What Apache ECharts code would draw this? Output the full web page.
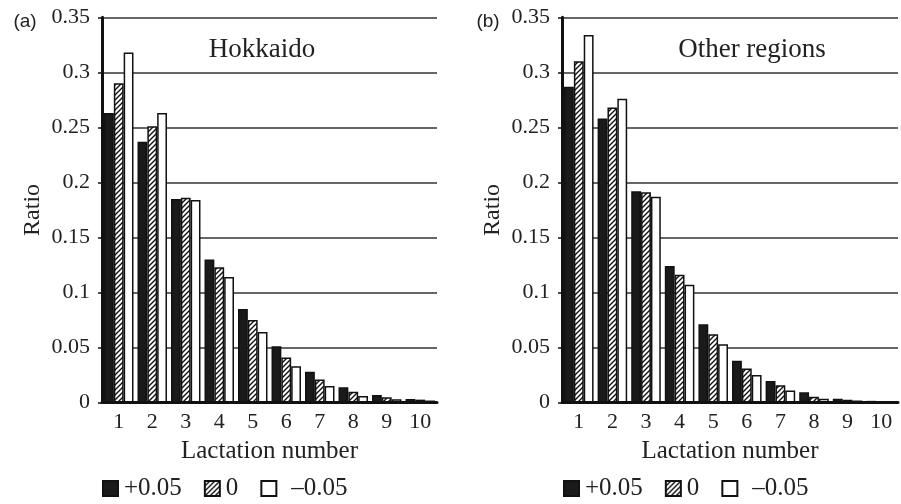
<!DOCTYPE html>
<html>
<head>
<meta charset="utf-8">
<script src="https://cdn.jsdelivr.net/npm/echarts@6/dist/echarts.min.js"></script>
<style>
html,body{margin:0;padding:0;background:#fff;}
#chart{width:901px;height:504px;}
</style>
</head>
<body>
<div id="chart"></div>
<script>
// ---- data ----
const categories = ['1','2','3','4','5','6','7','8','9','10'];
const seriesNames = ['+0.05', '0', '–0.05'];
const panelTitles = ['Hokkaido', 'Other regions'];
const panelLetters = ['(a)', '(b)'];
const yTicks = [0, 0.05, 0.1, 0.15, 0.2, 0.25, 0.3, 0.35];

const hokPlus  = [0.263, 0.237, 0.185, 0.130, 0.085, 0.051, 0.028, 0.0138, 0.0068, 0.0032];
const hokZero  = [0.290, 0.251, 0.186, 0.123, 0.075, 0.041, 0.021, 0.0098, 0.0047, 0.0026];
const hokMinus = [0.318, 0.263, 0.184, 0.114, 0.064, 0.033, 0.015, 0.0059, 0.0030, 0.0018];

const othPlus  = [0.287, 0.258, 0.192, 0.124, 0.071, 0.038, 0.0195, 0.0092, 0.0035, 0.0015];
const othZero  = [0.310, 0.268, 0.191, 0.116, 0.062, 0.031, 0.0157, 0.0053, 0.0025, 0.0012];
const othMinus = [0.334, 0.276, 0.187, 0.107, 0.053, 0.025, 0.0108, 0.0034, 0.0018, 0.0008];

// ---- hatch pattern ----
function makeHatch() {
  const s = 5;
  const c = document.createElement('canvas');
  c.width = s; c.height = s;
  const g = c.getContext('2d');
  g.fillStyle = '#fff';
  g.fillRect(0, 0, s, s);
  g.strokeStyle = '#111';
  g.lineWidth = 1.4;
  g.beginPath();
  g.moveTo(-1, s + 1); g.lineTo(s + 1, -1);
  g.moveTo(-1, 1); g.lineTo(1, -1);
  g.moveTo(s - 1, s + 1); g.lineTo(s + 1, s - 1);
  g.stroke();
  return c;
}
const hatch = { image: makeHatch(), repeat: 'repeat' };

const serif = 'Liberation Serif';
const styles = [
  { color: '#1a1a1a', borderColor: '#111', borderWidth: 1.5 },
  { color: hatch, borderColor: '#111', borderWidth: 1.5 },
  { color: '#ffffff', borderColor: '#111', borderWidth: 1.5 }
];

const grids = [
  { left: 102, right: 464, top: 17.3, bottom: 101.5 },
  { left: 562, right: 3, top: 17.3, bottom: 101.5 }
];

function xAx(i) {
  return {
    type: 'category', gridIndex: i, data: categories,
    name: 'Lactation number', nameLocation: 'middle', nameGap: 36,
    nameTextStyle: { fontFamily: serif, fontSize: 25, color: '#222' },
    axisLine: { lineStyle: { color: '#111', width: 3 } },
    axisTick: { show: false },
    axisLabel: { fontFamily: serif, fontSize: 22, color: '#222', margin: 9 }
  };
}
function yAx(i) {
  return {
    type: 'value', gridIndex: i, min: 0, max: 0.35, interval: 0.05,
    name: 'Ratio', nameLocation: 'middle', nameGap: 57,
    nameTextStyle: { fontFamily: serif, fontSize: 24, color: '#222' },
    axisLine: { show: true, lineStyle: { color: '#111', width: 3 } },
    axisTick: { show: true, length: 4, lineStyle: { color: '#111', width: 1.5 } },
    axisLabel: { fontFamily: serif, fontSize: 22, color: '#222', margin: 12,
      formatter: v => String(+v.toFixed(2)) },
    splitLine: { show: true, lineStyle: { color: '#333', width: 1.5 } }
  };
}

const panelData = [[hokPlus, hokZero, hokMinus], [othPlus, othZero, othMinus]];
const series = [];
panelData.forEach((arrs, p) => {
  arrs.forEach((arr, k) => {
    series.push({
      type: 'bar', name: seriesNames[k], xAxisIndex: p, yAxisIndex: p,
      data: arr, barGap: '0%', barCategoryGap: '12%',
      itemStyle: styles[k], emphasis: { disabled: true }
    });
  });
});

function legend(left) {
  return {
    left: left, top: 476, orient: 'horizontal', padding: 0,
    data: seriesNames, itemWidth: 15, itemHeight: 15, itemGap: 22,
    icon: 'rect',
    formatter: name => name === seriesNames[2] ? '{d|' + name + '}' : name,
    textStyle: { fontFamily: serif, fontSize: 25, color: '#222', padding: [0, 0, 0, 1],
      rich: { d: { fontFamily: serif, fontSize: 25, color: '#222', padding: [0, 0, 0, 9] } } }
  };
}

const titleCenters = [[262, 50], [752, 50]];
const letterPos = [[25, 22], [488, 22]];
const graphic = [];
panelTitles.forEach((t, i) => {
  graphic.push({ type: 'text', x: titleCenters[i][0], y: titleCenters[i][1],
    style: { text: t, font: '27px "Liberation Serif"', fill: '#222', textAlign: 'center', textVerticalAlign: 'middle' } });
});
panelLetters.forEach((t, i) => {
  graphic.push({ type: 'text', x: letterPos[i][0], y: letterPos[i][1],
    style: { text: t, font: '19px "Liberation Sans"', fill: '#222', textAlign: 'center', textVerticalAlign: 'middle' } });
});

const chart = echarts.init(document.getElementById('chart'), null, { renderer: 'canvas' });
chart.setOption({
  animation: false,
  backgroundColor: '#fff',
  grid: grids,
  xAxis: [xAx(0), xAx(1)],
  yAxis: [yAx(0), yAx(1)],
  legend: [legend(102), legend(563)],
  graphic: graphic,
  series: series
});
</script>
</body>
</html>
